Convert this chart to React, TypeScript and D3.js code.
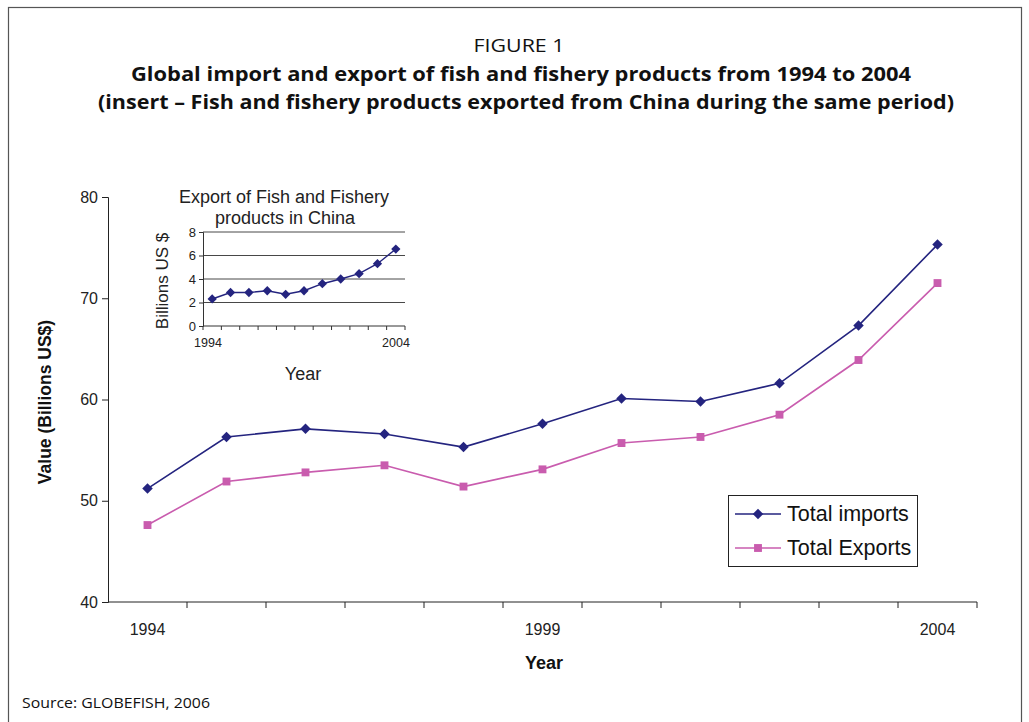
import React, { useRef, useEffect } from 'react';
import * as d3 from 'd3';

const years = ['1994', '1995', '1996', '1997', '1998', '1999', '2000', '2001', '2002', '2003', '2004'];
const totalImports = [51.2, 56.3, 57.1, 56.6, 55.3, 57.6, 60.1, 59.8, 61.6, 67.3, 75.3];
const totalExports = [47.6, 51.9, 52.8, 53.5, 51.4, 53.1, 55.7, 56.3, 58.5, 63.9, 71.5];
const chinaExports = [2.3, 2.85, 2.85, 3.0, 2.7, 3.0, 3.6, 4.0, 4.45, 5.3, 6.55];
const mainTicks = [40, 50, 60, 70, 80];
const insetTicks = [0, 2, 4, 6, 8];
const labelledYears = ['1994', '1999', '2004'];
const insetLabelledYears = ['1994', '2004'];

const NAVY = '#24247f';
const PINK = '#c95cae';

export default function App() {
  const svgRef = useRef<SVGSVGElement>(null);

  useEffect(() => {
    const svg = d3.select(svgRef.current);
    svg.selectAll('*').remove();
    const W = 1029, H = 722;
    svg.attr('width', W).attr('height', H);

    // frame
    svg.append('rect').attr('x', 8.5).attr('y', 7.5).attr('width', 1013).attr('height', 730)
      .attr('fill', 'none').attr('stroke', '#555').attr('stroke-width', 1.2);

    // titles
    const tf = "'Open Sans', 'DejaVu Sans', sans-serif";
    svg.append('text').attr('x', 519).attr('y', 52).attr('text-anchor', 'middle')
      .attr('font-family', tf).attr('font-size', 19).attr('fill', '#111')
      .attr('textLength', 91).attr('lengthAdjust', 'spacingAndGlyphs').text('FIGURE 1');
    svg.append('text').attr('x', 521).attr('y', 81).attr('text-anchor', 'middle')
      .attr('font-family', tf).attr('font-weight', 'bold').attr('font-size', 19.5).attr('fill', '#111')
      .attr('textLength', 780).attr('lengthAdjust', 'spacingAndGlyphs')
      .text('Global import and export of fish and fishery products from 1994 to 2004');
    svg.append('text').attr('x', 526).attr('y', 109).attr('text-anchor', 'middle')
      .attr('font-family', tf).attr('font-weight', 'bold').attr('font-size', 19.5).attr('fill', '#111')
      .attr('textLength', 856).attr('lengthAdjust', 'spacingAndGlyphs')
      .text('(insert \u2013 Fish and fishery products exported from China during the same period)');
    svg.append('text').attr('x', 22).attr('y', 708)
      .attr('font-family', tf).attr('font-size', 15).attr('fill', '#111')
      .attr('textLength', 188).attr('lengthAdjust', 'spacingAndGlyphs')
      .text('Source: GLOBEFISH, 2006');

    const af = "'Liberation Sans', Arial, sans-serif";

    // main chart
    const x = d3.scaleBand().domain(years).range([108, 977]);
    const y = d3.scaleLinear().domain([40, 80]).range([602, 197]);

    const gy = svg.append('g').attr('transform', 'translate(108,0)')
      .call(d3.axisLeft(y).tickValues(mainTicks).tickSize(6).tickPadding(4));
    gy.select('.domain').attr('stroke', '#222');
    gy.selectAll('.tick line').attr('stroke', '#222');
    gy.selectAll('text').attr('font-family', af).attr('font-size', 16).attr('fill', '#222');

    const gx = svg.append('g').attr('transform', 'translate(0,602)');
    gx.append('line').attr('x1', 108).attr('x2', 977).attr('stroke', '#222');
    const bounds = years.map(yr => (x(yr) as number) + x.bandwidth());
    gx.selectAll('line.tk').data(bounds).enter().append('line').attr('class', 'tk')
      .attr('x1', d => d).attr('x2', d => d).attr('y1', 0).attr('y2', 6).attr('stroke', '#222');
    gx.selectAll('text').data(labelledYears).enter().append('text')
      .attr('x', d => (x(d) as number) + x.bandwidth() / 2).attr('y', 33)
      .attr('text-anchor', 'middle').attr('font-family', af).attr('font-size', 16).attr('fill', '#222')
      .text(d => d);

    svg.append('text').attr('x', 544).attr('y', 669).attr('text-anchor', 'middle')
      .attr('font-family', af).attr('font-weight', 'bold').attr('font-size', 18).attr('fill', '#111').text('Year');
    svg.append('text').attr('transform', 'translate(51,402) rotate(-90)').attr('text-anchor', 'middle')
      .attr('font-family', af).attr('font-weight', 'bold').attr('font-size', 17.5).attr('fill', '#111')
      .text('Value (Billions US$)');

    const cx = (d: string) => (x(d) as number) + x.bandwidth() / 2;
    const line = d3.line<number>().x((_, i) => cx(years[i])).y(d => y(d));

    svg.append('path').datum(totalImports).attr('d', line).attr('fill', 'none')
      .attr('stroke', NAVY).attr('stroke-width', 1.6);
    svg.append('path').datum(totalExports).attr('d', line).attr('fill', 'none')
      .attr('stroke', PINK).attr('stroke-width', 1.6);

    const diamond = d3.symbol().type(d3.symbolDiamond2).size(70);
    const square = d3.symbol().type(d3.symbolSquare).size(62);

    svg.selectAll('path.imp').data(totalImports).enter().append('path').attr('class', 'imp')
      .attr('d', diamond).attr('fill', NAVY)
      .attr('transform', (d, i) => `translate(${cx(years[i])},${y(d)})`);
    svg.selectAll('path.exp').data(totalExports).enter().append('path').attr('class', 'exp')
      .attr('d', square).attr('fill', PINK)
      .attr('transform', (d, i) => `translate(${cx(years[i])},${y(d)})`);

    // legend
    const lg = svg.append('g').attr('transform', 'translate(728,495)');
    lg.append('rect').attr('x', 0.5).attr('y', 0.5).attr('width', 189).attr('height', 71)
      .attr('fill', '#fff').attr('stroke', '#222');
    const items = [
      { label: 'Total imports', color: NAVY, sym: diamond, yy: 19 },
      { label: 'Total Exports', color: PINK, sym: square, yy: 53 },
    ];
    items.forEach(it => {
      lg.append('line').attr('x1', 7).attr('x2', 53).attr('y1', it.yy).attr('y2', it.yy)
        .attr('stroke', it.color).attr('stroke-width', 1.6);
      lg.append('path').attr('d', it.sym).attr('fill', it.color)
        .attr('transform', `translate(30,${it.yy})`);
      lg.append('text').attr('x', 59).attr('y', it.yy + 7).attr('font-family', af)
        .attr('font-size', 21.5).attr('fill', '#111').text(it.label);
    });

    // inset
    const ix = d3.scaleBand().domain(years).range([203, 405]);
    const iy = d3.scaleLinear().domain([0, 8]).range([326, 232]);
    const ig = svg.append('g');
    ig.selectAll('line.grid').data(insetTicks.filter(t => t > 0)).enter().append('line')
      .attr('class', 'grid').attr('x1', 203).attr('x2', 405)
      .attr('y1', d => iy(d)).attr('y2', d => iy(d)).attr('stroke', '#333').attr('stroke-width', 0.9);
    const iay = ig.append('g').attr('transform', 'translate(203,0)')
      .call(d3.axisLeft(iy).tickValues(insetTicks).tickSize(4).tickPadding(3));
    iay.select('.domain').attr('stroke', '#333');
    iay.selectAll('.tick line').attr('stroke', '#333');
    iay.selectAll('text').attr('font-family', af).attr('font-size', 13).attr('fill', '#222');
    ig.append('line').attr('x1', 203).attr('x2', 405).attr('y1', 326).attr('y2', 326).attr('stroke', '#333');
    const ib = [203, ...years.map(yr => (ix(yr) as number) + ix.bandwidth())];
    ig.selectAll('line.itk').data(ib).enter().append('line').attr('class', 'itk')
      .attr('x1', d => d).attr('x2', d => d).attr('y1', 326).attr('y2', 330).attr('stroke', '#333');
    ig.selectAll('text.iyr').data(insetLabelledYears).enter().append('text').attr('class', 'iyr')
      .attr('x', (d, i) => i === 0 ? 208 : 396).attr('y', 347).attr('text-anchor', 'middle')
      .attr('font-family', af).attr('font-size', 12.5).attr('fill', '#222').text(d => d);
    ig.append('text').attr('x', 303).attr('y', 380).attr('text-anchor', 'middle')
      .attr('font-family', af).attr('font-size', 18).attr('fill', '#222').text('Year');
    ig.append('text').attr('transform', 'translate(168,281) rotate(-90)').attr('text-anchor', 'middle')
      .attr('font-family', af).attr('font-size', 17).attr('fill', '#222').text('Billions US $');
    ig.append('text').attr('x', 284).attr('y', 203).attr('text-anchor', 'middle')
      .attr('font-family', af).attr('font-size', 18).attr('fill', '#222').text('Export of Fish and Fishery');
    ig.append('text').attr('x', 285).attr('y', 224).attr('text-anchor', 'middle')
      .attr('font-family', af).attr('font-size', 18).attr('fill', '#222').text('products in China');

    const icx = (d: string) => (ix(d) as number) + ix.bandwidth() / 2;
    const iline = d3.line<number>().x((_, i) => icx(years[i])).y(d => iy(d));
    ig.append('path').datum(chinaExports).attr('d', iline).attr('fill', 'none')
      .attr('stroke', NAVY).attr('stroke-width', 1.4);
    ig.selectAll('path.cn').data(chinaExports).enter().append('path').attr('class', 'cn')
      .attr('d', d3.symbol().type(d3.symbolDiamond2).size(55)).attr('fill', NAVY)
      .attr('transform', (d, i) => `translate(${icx(years[i])},${iy(d)})`);
  }, []);

  return (
    <div style={{ position: 'absolute', left: 0, top: 0, background: '#fff' }}>
      <svg ref={svgRef} style={{ display: 'block' }} />
    </div>
  );
}
